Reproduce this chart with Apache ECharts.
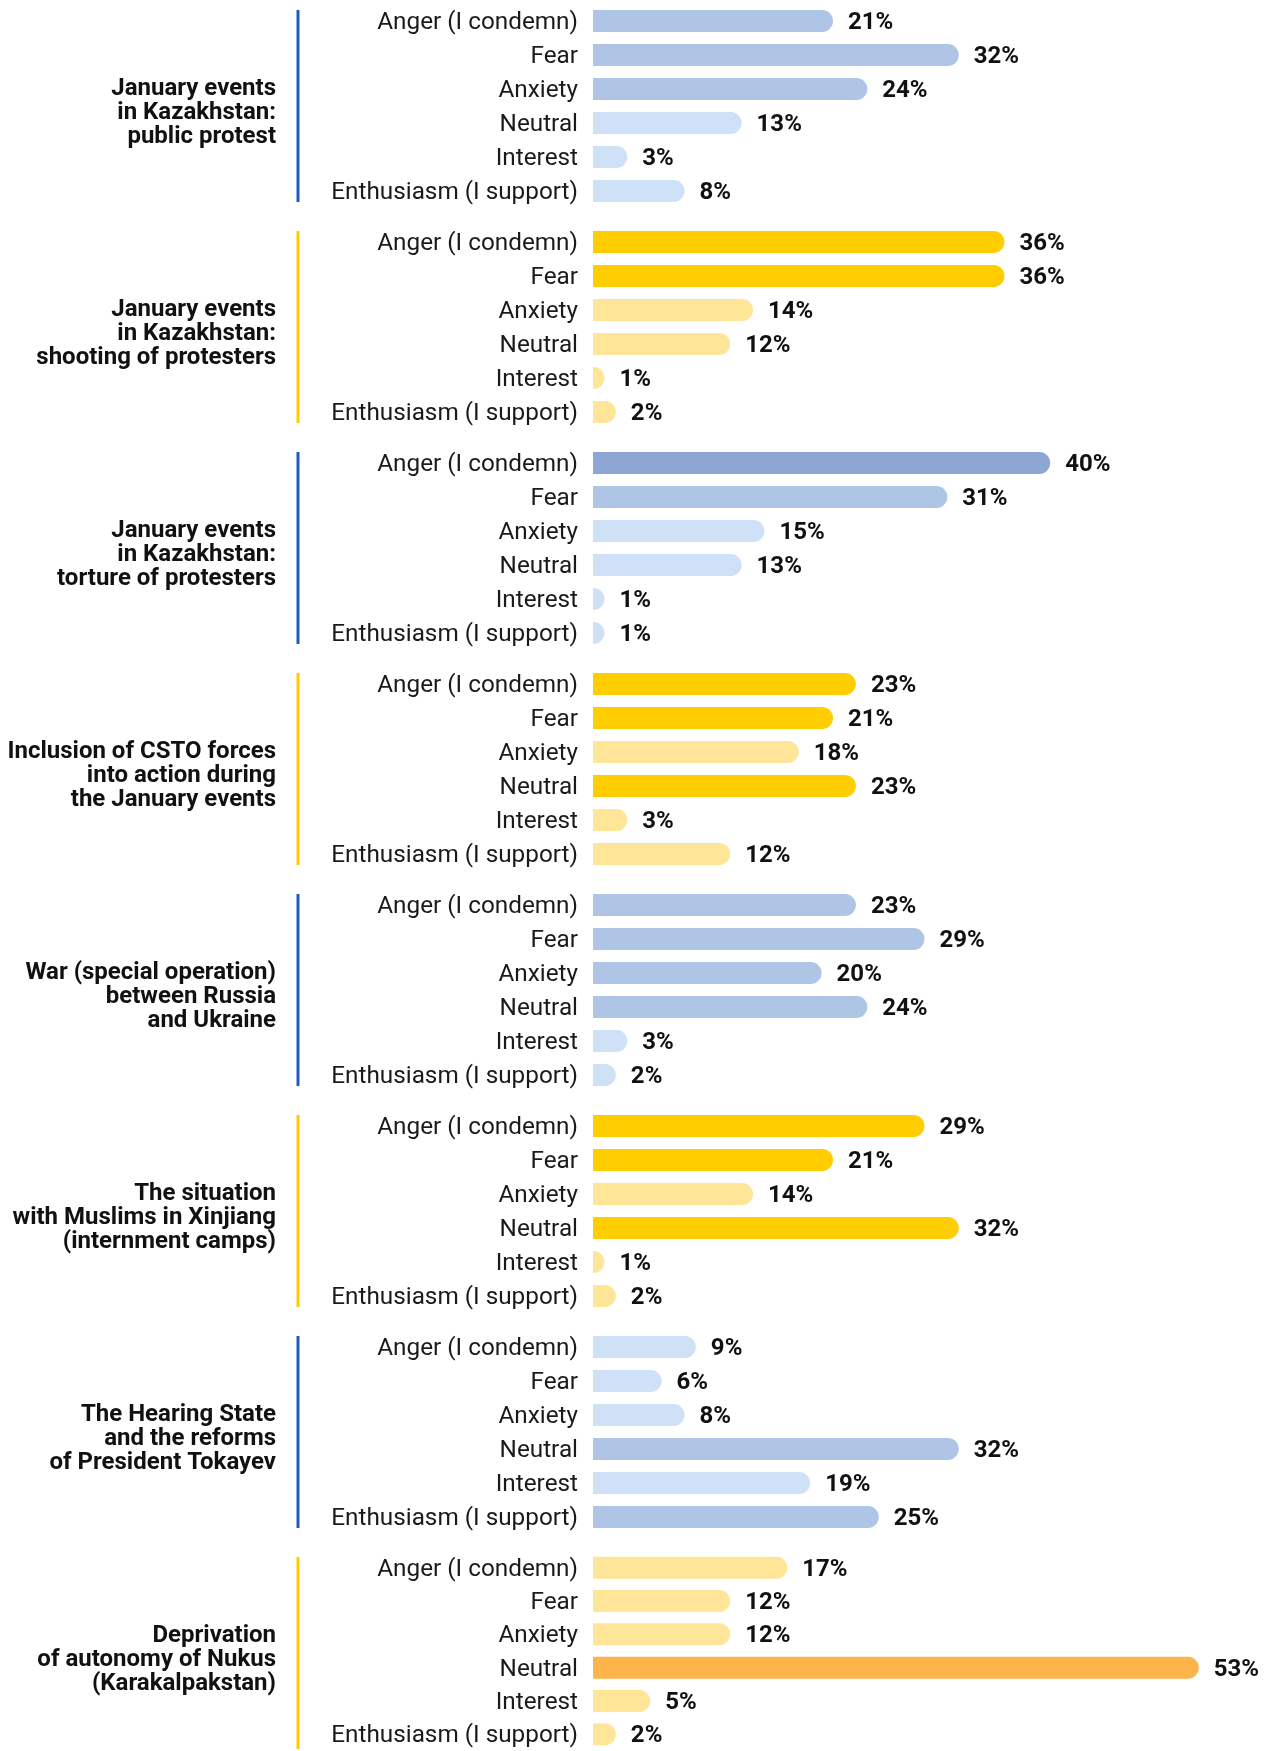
<!DOCTYPE html>
<html>
<head>
<meta charset="utf-8">
<title>Emotional reactions to events</title>
<script src="https://cdn.jsdelivr.net/npm/echarts@6/dist/echarts.min.js"></script>
<style>
  html, body { margin: 0; padding: 0; background: #ffffff; }
  #chart { width: 1268px; height: 1751px; }
</style>
</head>
<body>
<div id="chart"></div>
<script>
// Emotions asked about for every event (rows of each block)
const emotions = ['Anger (I condemn)', 'Fear', 'Anxiety', 'Neutral', 'Interest', 'Enthusiasm (I support)'];

// Event titles (one block per event)
const topics = [
  'January events\nin Kazakhstan:\npublic protest',
  'January events\nin Kazakhstan:\nshooting of protesters',
  'January events\nin Kazakhstan:\ntorture of protesters',
  'Inclusion of CSTO forces\ninto action during\nthe January events',
  'War (special operation)\nbetween Russia\nand Ukraine',
  'The situation\nwith Muslims in Xinjiang\n(internment camps)',
  'The Hearing State\nand the reforms\nof President Tokayev',
  'Deprivation\nof autonomy of Nukus\n(Karakalpakstan)'
];

// Share of respondents, %, in the order of `emotions`
const publicProtest   = [21, 32, 24, 13, 3, 8];
const shooting        = [36, 36, 14, 12, 1, 2];
const torture         = [40, 31, 15, 13, 1, 1];
const cstoForces      = [23, 21, 18, 23, 3, 12];
const russiaUkraine   = [23, 29, 20, 24, 3, 2];
const xinjiang        = [29, 21, 14, 32, 1, 2];
const hearingState    = [9, 6, 8, 32, 19, 25];
const nukusAutonomy   = [17, 12, 12, 53, 5, 2];

const groupValues = [publicProtest, shooting, torture, cstoForces,
                     russiaUkraine, xinjiang, hearingState, nukusAutonomy];

// Palettes: light / highlighted (>=20%) / strongest (>=40%)
const bluePalette   = { accent: '#1f5bc4', shades: ['#cfe1f6', '#afc5e6', '#8ea6d4'] };
const yellowPalette = { accent: '#ffcc00', shades: ['#ffe597', '#ffcd00', '#fdb44a'] };

function shadeIndex(v) {
  if (v >= 40) return 2;
  if (v >= 20) return 1;
  return 0;
}

// Layout
const FONT = 'Roboto, "Noto Sans", sans-serif';
const BLOCK_STEP = 221;   // vertical distance between blocks
const BLOCK_TOP = 4;      // top of the first block's plot area
const ROW_BAND = 34;      // height of one category band
const PLOT_LEFT = 593;
const AXIS_MAX = 55;
const PX_PER_UNIT = 11.43;
const BAR_H = 22;
const RULE_X = 298;
const TITLE_RIGHT = 276;
const TEXT_SHIFT = [0, 2];  // row text sits a touch below the bar's centre line

const grids = [], xAxes = [], yAxes = [], series = [], graphics = [];

groupValues.forEach((vals, g) => {
  const pal = g % 2 === 0 ? bluePalette : yellowPalette;
  const top = BLOCK_TOP + BLOCK_STEP * g;
  const h = ROW_BAND * emotions.length;

  grids.push({ left: PLOT_LEFT, top: top, width: AXIS_MAX * PX_PER_UNIT, height: h, containLabel: false });

  xAxes.push({
    gridIndex: g, type: 'value', min: 0, max: AXIS_MAX,
    show: false, splitLine: { show: false }
  });

  yAxes.push({
    gridIndex: g, type: 'category', data: emotions, inverse: true,
    axisLine: { show: false }, axisTick: { show: false }, splitLine: { show: false },
    axisLabel: { show: false }
  });

  // emotion names, anchored at the start of each row
  series.push({
    type: 'bar', xAxisIndex: g, yAxisIndex: g,
    barWidth: BAR_H, barGap: '-100%',
    silent: true,
    data: emotions.map(() => 0),
    itemStyle: { color: 'rgba(0,0,0,0)' },
    label: {
      show: true, position: 'left', distance: 15, offset: TEXT_SHIFT,
      formatter: p => p.name,
      fontFamily: FONT, fontSize: 24.3, color: '#1a1a1a'
    },
    z: 1
  });

  // percentage bars
  series.push({
    type: 'bar', xAxisIndex: g, yAxisIndex: g,
    barWidth: BAR_H, barGap: '-100%',
    silent: true,
    data: vals.map(v => ({
      value: v,
      itemStyle: { color: pal.shades[shadeIndex(v)], borderRadius: [0, BAR_H / 2, BAR_H / 2, 0] }
    })),
    label: {
      show: true, position: 'right', distance: 15, offset: TEXT_SHIFT,
      formatter: p => p.value + '%',
      fontFamily: FONT, fontSize: 24, fontWeight: 'bold', color: '#111111'
    },
    z: 2
  });

  // vertical rule spanning the block's bars
  const pad = (ROW_BAND - BAR_H) / 2;
  graphics.push({
    type: 'line', silent: true,
    shape: { x1: RULE_X, y1: top + pad, x2: RULE_X, y2: top + h - pad },
    style: { stroke: pal.accent, lineWidth: 3 }
  });

  // block title
  graphics.push({
    type: 'text', silent: true,
    x: TITLE_RIGHT, y: top + h / 2 + 7,
    style: {
      text: topics[g],
      font: 'bold 24px ' + FONT,
      fill: '#111111',
      align: 'right',
      verticalAlign: 'middle',
      lineHeight: 24
    }
  });
});

const chart = echarts.init(document.getElementById('chart'), null, { renderer: 'canvas' });
chart.setOption({
  animation: false,
  backgroundColor: '#ffffff',
  grid: grids,
  xAxis: xAxes,
  yAxis: yAxes,
  series: series,
  graphic: graphics
});
</script>
</body>
</html>
